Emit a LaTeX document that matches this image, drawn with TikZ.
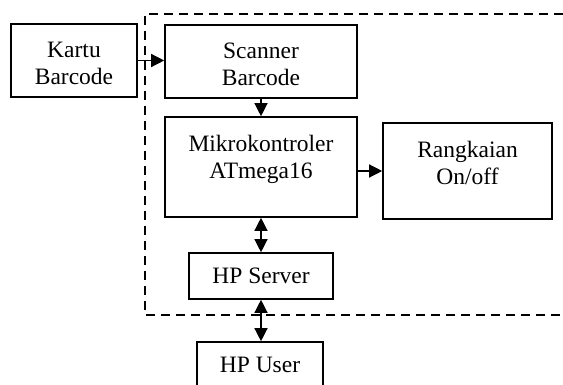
\documentclass[tikz,border=0pt]{standalone}
\usepackage{fontspec}
\setmainfont{Liberation Serif}
\usetikzlibrary{arrows.meta}
\begin{document}
\begin{tikzpicture}[x=1pt,y=-1pt,
  box/.style={draw,line width=1.6pt,inner sep=0pt},
  txt/.style={align=center,inner sep=0pt,font=\fontsize{23.5}{27}\selectfont},
  tip/.tip={Triangle[length=13pt,width=13pt]},
  arr/.style={line width=1.3pt,-tip},
  darr/.style={line width=1.3pt,tip-tip},
  dash box/.style={line width=1.6pt,dash pattern=on 9pt off 6pt}]
\useasboundingbox (0,0) rectangle (563,385);
% dashed boundary (right edge lies outside the picture)
\draw[dash box] (563,14) -- (145,14) -- (145,315) -- (563,315);
% boxes
\node[box,minimum width=126pt,minimum height=73pt] (kartu) at (74,60.5) {};
\node[box,minimum width=192pt,minimum height=73pt] (scanner) at (261,61.5) {};
\node[box,minimum width=192pt,minimum height=100pt] (mik) at (261,167) {};
\node[box,minimum width=169pt,minimum height=96pt] (rang) at (467.5,171) {};
\node[box,minimum width=144pt,minimum height=46pt] (server) at (261,276) {};
\node[box,minimum width=126pt,minimum height=46pt] (user) at (260,365) {};
% texts
\node[txt] (kartuT) at (74,63) {Kartu\\Barcode};
\node[txt] (scannerT) at (261,64.5) {Scanner\\Barcode};
\node[txt] (mikT) at (261,159) {Mikrokontroler\\ATmega16};
\node[txt] (rangT) at (467.5,162.5) {Rangkaian\\On/off};
\node[txt] (serverT) at (261,276) {HP Server};
\node[txt] (userT) at (260,365) {HP User};
% connectors
\draw[arr] (kartu.east) -- (kartu.east -| scanner.west);
\draw[arr] (scanner.south) -- (mik.north);
\draw[arr] (rang.west -| mik.east) -- (rang.west);
\draw[darr] (mik.south) -- (server.north);
\draw[darr] (server.south) -- (server.south |- user.north);
\end{tikzpicture}
\end{document}
